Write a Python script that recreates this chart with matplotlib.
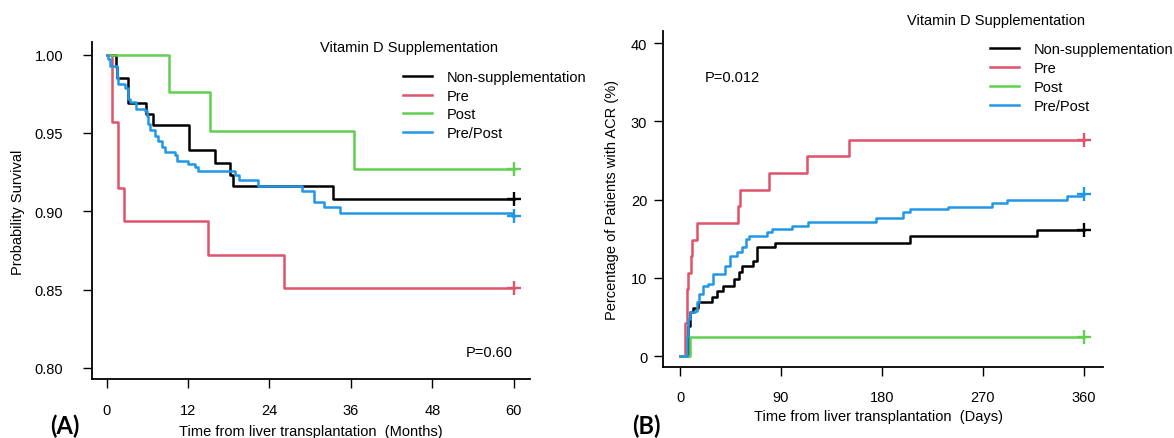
import matplotlib
matplotlib.use("Agg")
import matplotlib.pyplot as plt

plt.rcParams['font.family'] = ['Liberation Sans', 'DejaVu Sans']

W, H = 1174, 439

groups = ["Non-supplementation", "Pre", "Post", "Pre/Post"]
colors = ["#000000", "#DF536B", "#61D04F", "#2297E6"]

# ---- Panel A: survival (months) ----
a_non_t = [0, 1.4, 1.6, 3.1, 5.75, 6.9, 12.1, 16.0, 18.2, 18.6, 33.4, 60]
a_non_s = [1, 0.992, 0.985, 0.969, 0.962, 0.955, 0.939, 0.931, 0.923, 0.916, 0.908, 0.908]
a_pre_t = [0, 0.83, 1.72, 2.6, 14.9, 26.1, 60]
a_pre_s = [1, 0.957, 0.915, 0.894, 0.872, 0.851, 0.851]
a_post_t = [0, 9.2, 15.3, 36.5, 60]
a_post_s = [1, 0.976, 0.951, 0.927, 0.927]
a_pp_t = [0, 0.24, 0.49, 1.47, 1.72, 2.70, 3.19, 3.44, 4.27, 5.65, 5.89, 6.14, 6.39,
          7.12, 7.62, 8.11, 8.6, 10.07, 10.32, 12.04, 13.02, 13.51, 18.92, 19.5,
          22.3, 28.8, 30.5, 32.1, 34.4, 59.8, 60]
a_pp_s = [1, 0.997, 0.993, 0.986, 0.981, 0.979, 0.972, 0.970, 0.965, 0.964, 0.961,
          0.956, 0.952, 0.948, 0.945, 0.941, 0.938, 0.936, 0.932, 0.930, 0.928, 0.926,
          0.923, 0.920, 0.916, 0.913, 0.906, 0.903, 0.899, 0.897, 0.897]
a_xticks = [0, 12, 24, 36, 48, 60]
a_yticks = [0.80, 0.85, 0.90, 0.95, 1.00]

# ---- Panel B: cumulative ACR (%) (days) ----
b_non_t = [0, 7.4, 8.9, 11.9, 16.3, 28.2, 33.3, 38.6, 48.1, 52.9, 55, 64.8, 68.3,
           84.7, 205, 318, 360]
b_non_p = [0, 3.9, 5.6, 6.2, 6.9, 7.5, 8.35, 9.0, 9.85, 10.7, 11.5, 12.2, 13.9,
           14.4, 15.3, 16.1, 16.1]
b_pre_t = [0, 4, 6, 7.4, 9.5, 10.4, 15, 52, 53.5, 79, 113, 151, 360]
b_pre_p = [0, 4.26, 8.51, 10.64, 12.77, 14.89, 17.02, 19.15, 21.28, 23.40, 25.53,
           27.66, 27.66]
b_post_t = [0, 9, 360]
b_post_p = [0, 2.44, 2.44]
b_pp_t = [0, 6, 7.4, 8.9, 13.4, 14.9, 17.2, 20.2, 25.2, 29.7, 40.1, 44.6, 50.5, 55,
          58.8, 61.8, 77.8, 81.7, 99.5, 114.4, 175, 199, 205, 239, 278, 291, 345,
          358, 360]
b_pp_p = [0, 2.6, 4.7, 5.6, 5.8, 6.9, 7.9, 9.0, 9.2, 10.5, 11.5, 12.8, 13.3, 13.9,
          15.0, 15.4, 15.8, 16.3, 16.6, 17.2, 17.7, 18.4, 18.8, 19.1, 19.6, 20.0,
          20.5, 20.7, 20.7]
b_xticks = [0, 90, 180, 270, 360]
b_yticks = [0, 10, 20, 30, 40]

fig = plt.figure(figsize=(W / 100, H / 100), dpi=100)


def px_axes(l, t, r, b):
    return fig.add_axes([l / W, 1 - b / H, (r - l) / W, (b - t) / H])


axA = px_axes(91.7, 43, 530, 380)
axB = px_axes(663.3, 31.7, 1103, 368.3)

LW = 1.8
FS = 10.5

dataA = [(a_non_t, a_non_s), (a_pre_t, a_pre_s), (a_post_t, a_post_s), (a_pp_t, a_pp_s)]
dataB = [(b_non_t, b_non_p), (b_pre_t, b_pre_p), (b_post_t, b_post_p), (b_pp_t, b_pp_p)]

for ax, data in ((axA, dataA), (axB, dataB)):
    for (t, v), c, g in zip(data, colors, groups):
        ax.step(t, v, where='post', color=c, lw=LW, label=g)
        ax.plot([t[-1]], [v[-1]], marker='+', ms=10, mew=1.7, color=c, ls='none')
    for s in ('top', 'right'):
        ax.spines[s].set_visible(False)
    for s in ('left', 'bottom'):
        ax.spines[s].set_linewidth(1.3)
    ax.tick_params(direction='out', length=6.5, width=1.0, labelsize=FS)

axA.set_xlim(-2.2, 62.4)
axA.set_ylim(0.7929, 1.0081)
axA.set_xticks(a_xticks)
axA.set_yticks(a_yticks)
axA.set_yticklabels([f"{v:.2f}" for v in a_yticks])
axA.tick_params(axis='x', pad=11)
axA.tick_params(axis='y', pad=14)

axB.set_xlim(-14.9, 377)
axB.set_ylim(-1.445, 41.6)
axB.set_xticks(b_xticks)
axB.set_yticks(b_yticks)
axB.tick_params(axis='x', pad=10)
axB.tick_params(axis='y', pad=5)

# axis labels
fig.text(311 / W, 1 - 432 / H, "Time from liver transplantation  (Months)",
         ha='center', va='center', fontsize=FS)
fig.text(18 / W, 1 - 212 / H, "Probability Survival", rotation=90,
         ha='center', va='center', fontsize=FS)
fig.text(878.5 / W, 1 - 417 / H, "Time from liver transplantation  (Days)",
         ha='center', va='center', fontsize=FS)
fig.text(612 / W, 1 - 200 / H, "Percentage of Patients with ACR (%)", rotation=90,
         ha='center', va='center', fontsize=FS)

# legends
fig.text(320 / W, 1 - 48 / H, "Vitamin D Supplementation", ha='left', va='center',
         fontsize=FS)
axA.legend(loc='upper left', bbox_to_anchor=(403 / W, 1 - 71 / H),
           bbox_transform=fig.transFigure, frameon=False, fontsize=FS,
           handlelength=2.0, handletextpad=1.0, labelspacing=0.32, borderpad=0,
           borderaxespad=0)
fig.text(907 / W, 1 - 21 / H, "Vitamin D Supplementation", ha='left', va='center',
         fontsize=FS)
axB.legend(loc='upper left', bbox_to_anchor=(990 / W, 1 - 43 / H),
           bbox_transform=fig.transFigure, frameon=False, fontsize=FS,
           handlelength=2.0, handletextpad=1.0, labelspacing=0.34, borderpad=0,
           borderaxespad=0)

# p-values
fig.text(513 / W, 1 - 353 / H, "P=0.60", ha='right', va='center', fontsize=FS)
fig.text(705 / W, 1 - 78 / H, "P=0.012", ha='left', va='center', fontsize=FS)

# panel letters
fig.text(50 / W, 1 - 426 / H, "(A)", ha='left', va='center', fontsize=17,
         fontweight='bold', family=['Lato', 'DejaVu Sans'])
fig.text(632 / W, 1 - 426 / H, "(B)", ha='left', va='center', fontsize=17,
         fontweight='bold', family=['Lato', 'DejaVu Sans'])

fig.savefig("out.png", dpi=100)
